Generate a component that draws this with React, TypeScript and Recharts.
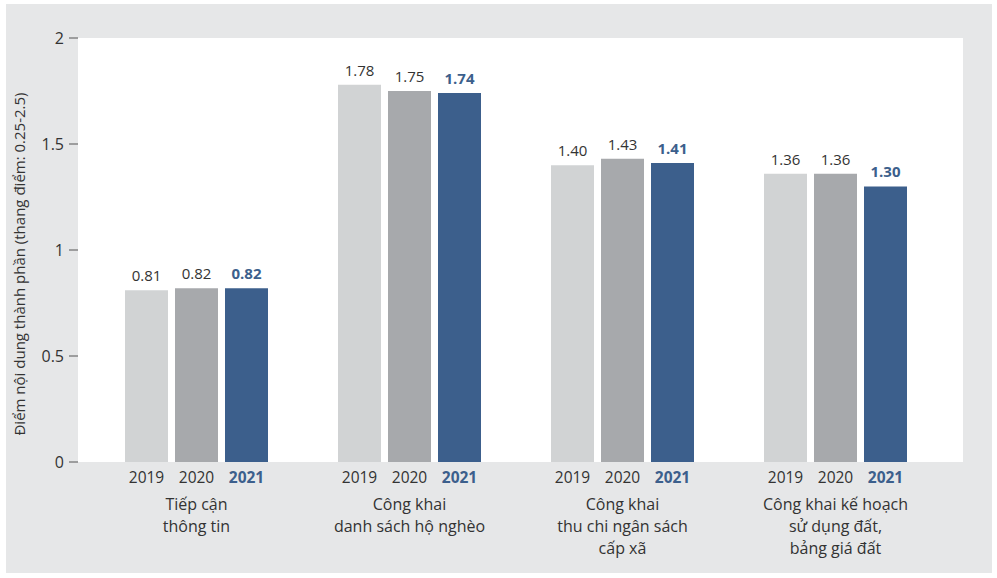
import { Bar, BarChart, CartesianGrid, LabelList, XAxis, YAxis } from "recharts";

const categories = [
  "Tiếp cận\nthông tin",
  "Công khai\ndanh sách hộ nghèo",
  "Công khai\nthu chi ngân sách\ncấp xã",
  "Công khai kế hoạch\nsử dụng đất,\nbảng giá đất",
];
const years = ["2019", "2020", "2021"];
const values2019 = [0.81, 1.78, 1.4, 1.36];
const values2020 = [0.82, 1.75, 1.43, 1.36];
const values2021 = [0.82, 1.74, 1.41, 1.3];
const yTicks = [0, 0.5, 1, 1.5, 2];
const yTitle = "Điểm nội dung thành phần (thang điểm: 0.25-2.5)";

const data = categories.map((name, i) => ({
  name,
  y2019: values2019[i],
  y2020: values2020[i],
  y2021: values2021[i],
}));

const FONT = "'Open Sans', sans-serif";
const TEXT = "#333333";
const BLUE = "#3c5f8c";
const PANEL = "#e6e7e8";

function CategoryTick(props: any) {
  const { x, y, payload } = props;
  const lines = String(payload.value).split("\n");
  return (
    <g fontFamily={FONT}>
      {years.map((yr, i) => (
        <text
          key={yr}
          x={x + (i - 1) * 50}
          y={y + 21}
          textAnchor="middle"
          fontSize={15.5}
          fill={i === 2 ? BLUE : TEXT}
          fontWeight={i === 2 ? 700 : 400}
        >
          {yr}
        </text>
      ))}
      {lines.map((ln, i) => (
        <text key={i} x={x} y={y + 48 + i * 22} textAnchor="middle" fontSize={16} fill={TEXT}>
          {ln}
        </text>
      ))}
    </g>
  );
}

function ValueLabel(props: any) {
  const { x, y, width, value, bold } = props;
  return (
    <text
      x={x + width / 2}
      y={y - 9}
      textAnchor="middle"
      fontFamily={FONT}
      fontSize={15}
      fontWeight={bold ? 700 : 400}
      fill={bold ? BLUE : TEXT}
    >
      {Number(value).toFixed(2)}
    </text>
  );
}

export default function App() {
  return (
    <div style={{ position: "absolute", left: 0, top: 0, width: 997, height: 578, background: "#fff" }}>
      <div style={{ position: "absolute", left: 6, top: 4, width: 986, height: 569, background: PANEL }} />
      <div style={{ position: "absolute", left: 0, top: 0 }}>
        <BarChart
          width={997}
          height={578}
          data={data}
          margin={{ top: 38, right: 34, left: 0, bottom: 0 }}
          barSize={43}
          barGap={7}
        >
          <CartesianGrid fill="#ffffff" horizontal={false} vertical={false} />
          <XAxis
            dataKey="name"
            height={116}
            axisLine={false}
            tickLine={false}
            tickSize={0}
            tickMargin={0}
            interval={0}
            padding={{ left: 12, right: 21 }}
            tick={<CategoryTick />}
          />
          <YAxis
            width={78}
            domain={[0, 2]}
            ticks={yTicks}
            axisLine={false}
            tickSize={9}
            tickMargin={5}
            tickLine={{ stroke: "#555555" }}
            tick={{ fontFamily: FONT, fontSize: 16, fill: TEXT }}
            label={{
              value: yTitle,
              angle: -90,
              position: "insideLeft",
              dx: 15,
              dy: 14,
              style: { fontFamily: FONT, fontSize: 15, fill: TEXT, textAnchor: "middle" },
            }}
          />
          <Bar dataKey="y2019" fill="#d1d3d4" isAnimationActive={false}>
            <LabelList dataKey="y2019" content={<ValueLabel />} />
          </Bar>
          <Bar dataKey="y2020" fill="#a7a9ac" isAnimationActive={false}>
            <LabelList dataKey="y2020" content={<ValueLabel />} />
          </Bar>
          <Bar dataKey="y2021" fill={BLUE} isAnimationActive={false}>
            <LabelList dataKey="y2021" content={<ValueLabel bold />} />
          </Bar>
        </BarChart>
      </div>
    </div>
  );
}
